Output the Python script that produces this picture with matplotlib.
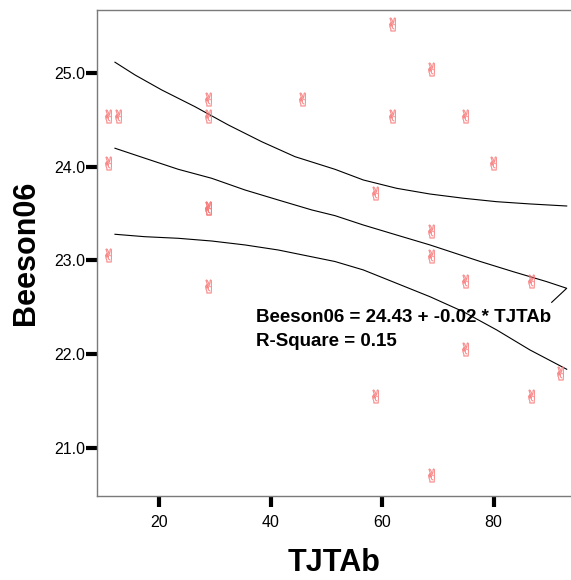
import numpy as np
import matplotlib.pyplot as plt

### data ###
tjtab = [10.8, 12.6, 28.7, 10.8, 28.7, 28.7, 10.8, 28.7, 28.7, 45.7,
         61.7, 68.7, 61.7, 74.9, 79.8, 58.7, 68.7, 68.7, 74.9, 86.7,
         74.9, 91.9, 58.7, 86.7, 68.7]
beeson06 = [24.54, 24.54, 24.54, 24.04, 24.72, 23.56, 23.06, 23.56, 22.73, 24.72,
            25.53, 25.05, 24.54, 24.54, 24.04, 23.72, 23.31, 23.05, 22.78, 22.78,
            22.05, 21.80, 21.55, 21.55, 20.71]

# fit line and confidence band
fit_x = [12.11, 17.49, 23.46, 29.45, 35.42, 41.39, 47.38, 51.55, 56.63, 62.61,
         68.58, 77.55, 83.52, 89.50, 93.09, 90.40]
fit_y = [24.199, 24.092, 23.974, 23.878, 23.753, 23.646, 23.540, 23.479, 23.379, 23.272,
         23.166, 22.990, 22.880, 22.774, 22.703, 22.553]

upper_x = [12.11, 15.70, 20.48, 26.45, 32.42, 38.41, 44.38, 51.55, 56.63, 62.61,
           68.58, 74.55, 80.54, 86.51, 93.09]
upper_y = [25.118, 24.982, 24.822, 24.643, 24.448, 24.269, 24.109, 23.974, 23.860, 23.771,
           23.710, 23.665, 23.628, 23.604, 23.582]

lower_x = [12.11, 17.49, 23.46, 29.45, 35.42, 41.39, 51.55, 56.63, 62.61, 68.58,
           74.55, 80.54, 86.51, 93.09]
lower_y = [23.280, 23.254, 23.237, 23.208, 23.166, 23.112, 22.989, 22.899, 22.756, 22.613,
           22.453, 22.258, 22.044, 21.838]

x_ticks = [20, 40, 60, 80]
y_ticks = [21.0, 22.0, 23.0, 24.0, 25.0]
eq_lines = ['Beeson06 = 24.43 + -0.02 * TJTAb', 'R-Square = 0.15']
#====================

plt.rcParams['font.family'] = ['Liberation Sans', 'DejaVu Sans']

fig = plt.figure(figsize=(5.71, 5.80), dpi=100)
ax = fig.add_axes([0.1693, 0.1440, 0.8307, 0.8388])

ax.plot(upper_x, upper_y, color='black', lw=0.8)
ax.plot(fit_x, fit_y, color='black', lw=0.8)
ax.plot(lower_x, lower_y, color='black', lw=0.8)

ax.scatter(tjtab, beeson06, marker='$\u270C$', s=95, color='#f87878',
           alpha=0.85, linewidths=0.3, edgecolors='#f87878', zorder=3)

ax.text(37.39, 22.340, eq_lines[0], fontsize=13.5, fontweight='bold', va='baseline')
ax.text(37.39, 22.087, eq_lines[1], fontsize=13.5, fontweight='bold', va='baseline')

ax.set_xlim(8.83, 93.86)
ax.set_ylim(20.479, 25.676)
ax.set_xticks(x_ticks)
ax.set_yticks(y_ticks)
ax.set_yticklabels(['%.1f' % v for v in y_ticks])
ax.tick_params(axis='both', length=8, width=3, direction='out', labelsize=11.5)
ax.tick_params(axis='y', pad=0)
ax.tick_params(axis='x', pad=5)

for s in ['left', 'bottom', 'top']:
    ax.spines[s].set_color('#7a7a7a')
    ax.spines[s].set_linewidth(1.0)
ax.spines['right'].set_visible(False)

ax.set_xlabel('TJTAb', fontsize=22, fontweight='bold', labelpad=13)
ax.set_ylabel('Beeson06', fontsize=22, fontweight='bold', labelpad=10)

fig.savefig('out.png', dpi=100)
